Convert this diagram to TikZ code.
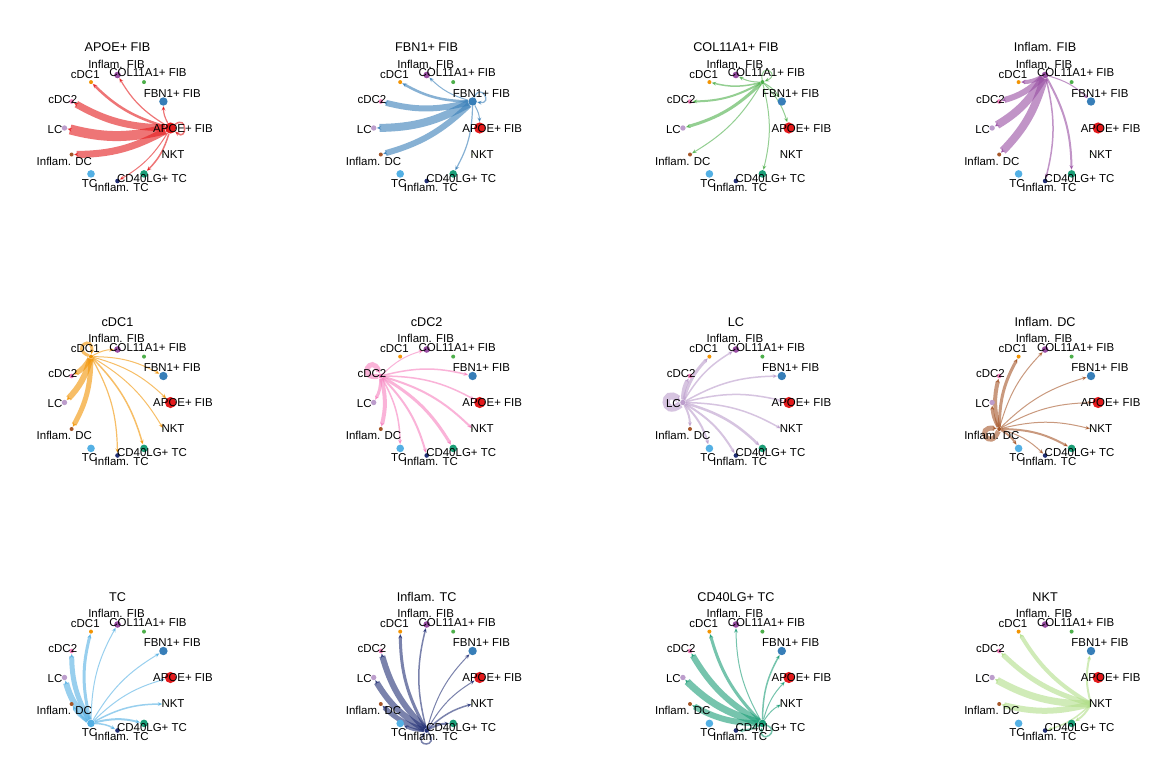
\documentclass[tikz,border=0pt]{standalone}
\usepackage{fontspec}
\setmainfont{Liberation Sans}
\usetikzlibrary{arrows.meta,calc,backgrounds}
\definecolor{c0}{HTML}{E41A1C}
\definecolor{c1}{HTML}{377EB8}
\definecolor{c2}{HTML}{4DAF4A}
\definecolor{c3}{HTML}{984EA3}
\definecolor{c4}{HTML}{F29403}
\definecolor{c5}{HTML}{F781BF}
\definecolor{c6}{HTML}{BC9DCC}
\definecolor{c7}{HTML}{A65628}
\definecolor{c8}{HTML}{54B0E4}
\definecolor{c9}{HTML}{222F75}
\definecolor{c10}{HTML}{1B9E77}
\definecolor{c11}{HTML}{B2DF8A}
\tikzset{
  lab/.style={font=\fontsize{8.6}{9}\selectfont, inner sep=0pt, anchor=base},
  ttl/.style={font=\fontsize{9.5}{10}\selectfont, inner sep=0pt, anchor=base},
  dot/.style={circle, inner sep=0pt, minimum size=#1},
  ed/.style={line width=#1, draw opacity=0.6, -{Stealth[length=3.5pt 0, width=3pt 0]}},
}
\newcommand\cpanel[6]{%
  \coordinate (P#1) at (#2,-#3);
  \node[ttl] (P#1t) at ($(P#1)+(0,76.2)$) {#4};
  \foreach \i/\r in {0/5.6,1/4.2,2/2,3/3.3,4/2,5/2.3,6/2.7,7/2,8/3.8,9/2.3,10/3.8,11/0.8}{
    \pgfmathsetlengthmacro\dsz{2*\r*0.75pt}
    \node[dot=\dsz, fill=c\i] (P#1n\i) at ($(P#1)+(\i*30:53)$) {};
  }
  \foreach \i/\dx/\dy/\txt in {0/65.5/-4.1/{APOE+ FIB},1/54.8/30.6/{FBN1+ FIB},2/30.5/51.2/{COL11A1+ FIB},3/-1/59.6/{Inflam. FIB},4/-32.2/49.6/cDC1,5/-54.7/24.9/cDC2,6/-62.5/-5.1/LC,7/-53.2/-37.1/{Inflam. DC},8/-28/-59.4/TC,9/4.2/-63.4/{Inflam. TC},10/34.5/-54.4/{CD40LG+ TC},11/55.5/-30.1/NKT}{
    \node[lab] (P#1l\i) at ($(P#1)+(\dx,\dy)$) {\txt};
  }
  \begin{pgfonlayer}{background}
  \foreach \t/\w in {#6}{
    \ifnum\t=#5\relax
      \draw[ed=\w*0.75pt, c#5] (P#1n#5) .. controls +(#5*30+38:20+\w) and +(#5*30-38:20+\w) .. (P#1n#5);
    \else
      \draw[ed=\w*0.75pt, c#5] (P#1n#5) to[bend left=14] (P#1n\t);
    \fi
  }
  \end{pgfonlayer}
}
\begin{document}
\begin{tikzpicture}[x=0.75pt,y=0.75pt]
\useasboundingbox (0,0) rectangle (1156,-778);
\begin{pgfonlayer}{background}
\fill[white] (0,0) rectangle (1156,-778);
\end{pgfonlayer}
\cpanel{0}{117.5}{128}{APOE+ FIB}{0}{0/1.5,1/1.2,3/1.2,4/2.5,5/7,6/10,7/7,9/1,10/1.5}
\cpanel{1}{426.7}{128}{FBN1+ FIB}{1}{1/1.2,0/1,3/1,4/2.5,5/6,6/8,7/6,10/1.2}
\cpanel{2}{735.9}{128}{COL11A1+ FIB}{2}{2/1,3/1,4/1.5,5/2,6/3,7/1,1/1,0/1,10/1}
\cpanel{3}{1045.1}{128}{Inflam. FIB}{3}{4/4,5/6,6/8,7/8,9/1.5,10/2,1/1}
\cpanel{4}{117.5}{402.5}{cDC1}{4}{4/3,3/1,1/1,0/1,11/1,10/1.5,9/1.2,5/5,6/6,7/5}
\cpanel{5}{426.7}{402.5}{cDC2}{5}{5/5,6/3,7/4,8/1.5,9/2,10/3,11/2,0/1.5,1/1.5,3/1}
\cpanel{6}{735.9}{402.5}{LC}{6}{6/7,5/4,4/3,3/1.5,1/1.5,0/1.5,11/1.5,10/2.5,9/2,8/2,7/2}
\cpanel{7}{1045.1}{402.5}{Inflam. DC}{7}{7/5,6/3,5/4,4/3,3/1,1/1,0/1,11/1,10/2,9/1,8/2}
\cpanel{8}{117.5}{677.5}{TC}{8}{7/3,6/6,5/5,4/3,3/1,1/1,0/1,11/1.5,10/2,9/1.5}
\cpanel{9}{426.7}{677.5}{Inflam. TC}{9}{9/1.5,8/3,7/5,6/6,5/6,4/3,3/1.5,1/1,0/1,11/1.5,10/2}
\cpanel{10}{735.9}{677.5}{CD40LG+ TC}{10}{10/1.5,9/2,7/6,6/7,5/6,4/3,3/1,1/1.5,0/1,11/1}
\cpanel{11}{1045.1}{677.5}{NKT}{11}{1/2,4/4,5/5,6/7,7/6,10/2,9/1.5}
\end{tikzpicture}
\end{document}
